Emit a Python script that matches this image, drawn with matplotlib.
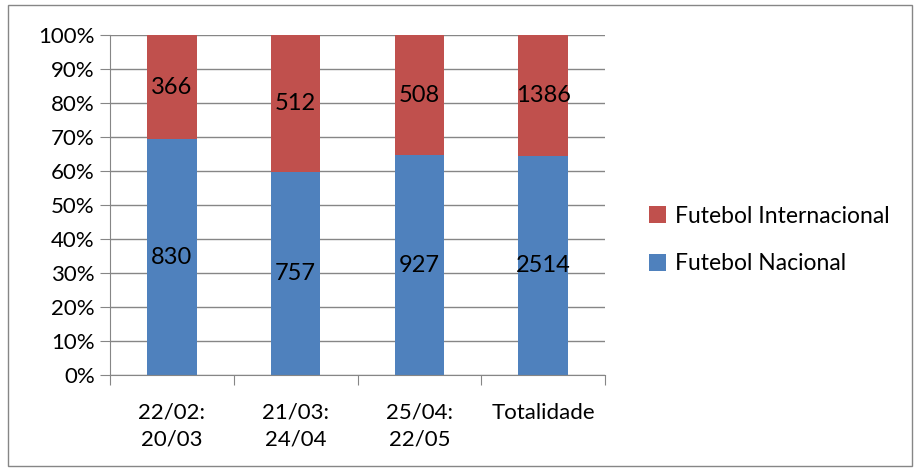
import numpy as np
import matplotlib.pyplot as plt
from matplotlib.patches import Rectangle

categories = ["22/02:\n20/03", "21/03:\n24/04", "25/04:\n22/05", "Totalidade"]
nacional = [830, 757, 927, 2514]
internacional = [366, 512, 508, 1386]

plt.rcParams["font.family"] = ["Lato", "DejaVu Sans"]

nac = np.array(nacional, dtype=float)
inter = np.array(internacional, dtype=float)
total = nac + inter
nac_pct = nac / total * 100
int_pct = inter / total * 100

fig = plt.figure(figsize=(9.15, 4.7), dpi=100)
ax = fig.add_axes([110 / 915, 1 - 375 / 470, 495 / 915, 340 / 470])

blue = "#4F81BD"
red = "#C0504D"
grid = "#868686"
x = np.arange(len(categories))
w = 0.4

b1 = ax.bar(x, nac_pct, w, color=blue, label="Futebol Nacional", zorder=2)
b2 = ax.bar(x, int_pct, w, bottom=nac_pct, color=red,
            label="Futebol Internacional", zorder=2)

for i in range(len(x)):
    ax.text(x[i], nac_pct[i] / 2, f"{nacional[i]}", ha="center", va="center",
            fontsize=17, zorder=3)
    ax.text(x[i], nac_pct[i] + int_pct[i] / 2, f"{internacional[i]}",
            ha="center", va="center", fontsize=17, zorder=3)

ax.set_xlim(-0.5, len(x) - 0.5)
ax.set_ylim(0, 100)
ax.set_yticks(np.arange(0, 101, 10))
ax.set_yticklabels([f"{v}%" for v in range(0, 101, 10)], fontsize=16)
ax.yaxis.grid(True, color=grid, linewidth=1, zorder=0)

# category boundaries carry the ticks, labels sit in the middle
ax.set_xticks(np.arange(-0.5, len(x), 1.0))
ax.set_xticklabels([])
ax.set_xticks(x, minor=True)
ax.set_xticklabels(categories, minor=True, fontsize=16, linespacing=1.45)
ax.tick_params(axis="x", which="major", direction="out", length=7, color=grid)
ax.tick_params(axis="x", which="minor", length=0, pad=20)
ax.tick_params(axis="y", direction="out", length=7, color=grid, pad=4)

for s in ["top", "right"]:
    ax.spines[s].set_visible(False)
for s in ["left", "bottom"]:
    ax.spines[s].set_color(grid)

handles = [b2, b1]
leg = fig.legend(handles, [h.get_label() for h in handles],
                 loc="center left", bbox_to_anchor=(628 / 915, 1 - 240 / 470),
                 frameon=False, fontsize=16.5, handlelength=0.75, handleheight=0.75,
                 labelspacing=1.15, handletextpad=0.4)

fig.patches.append(Rectangle((8 / 915, 4 / 470), 904 / 915, 461 / 470,
                             transform=fig.transFigure, fill=False,
                             edgecolor=grid, linewidth=1))

fig.savefig("out.png", dpi=100)
